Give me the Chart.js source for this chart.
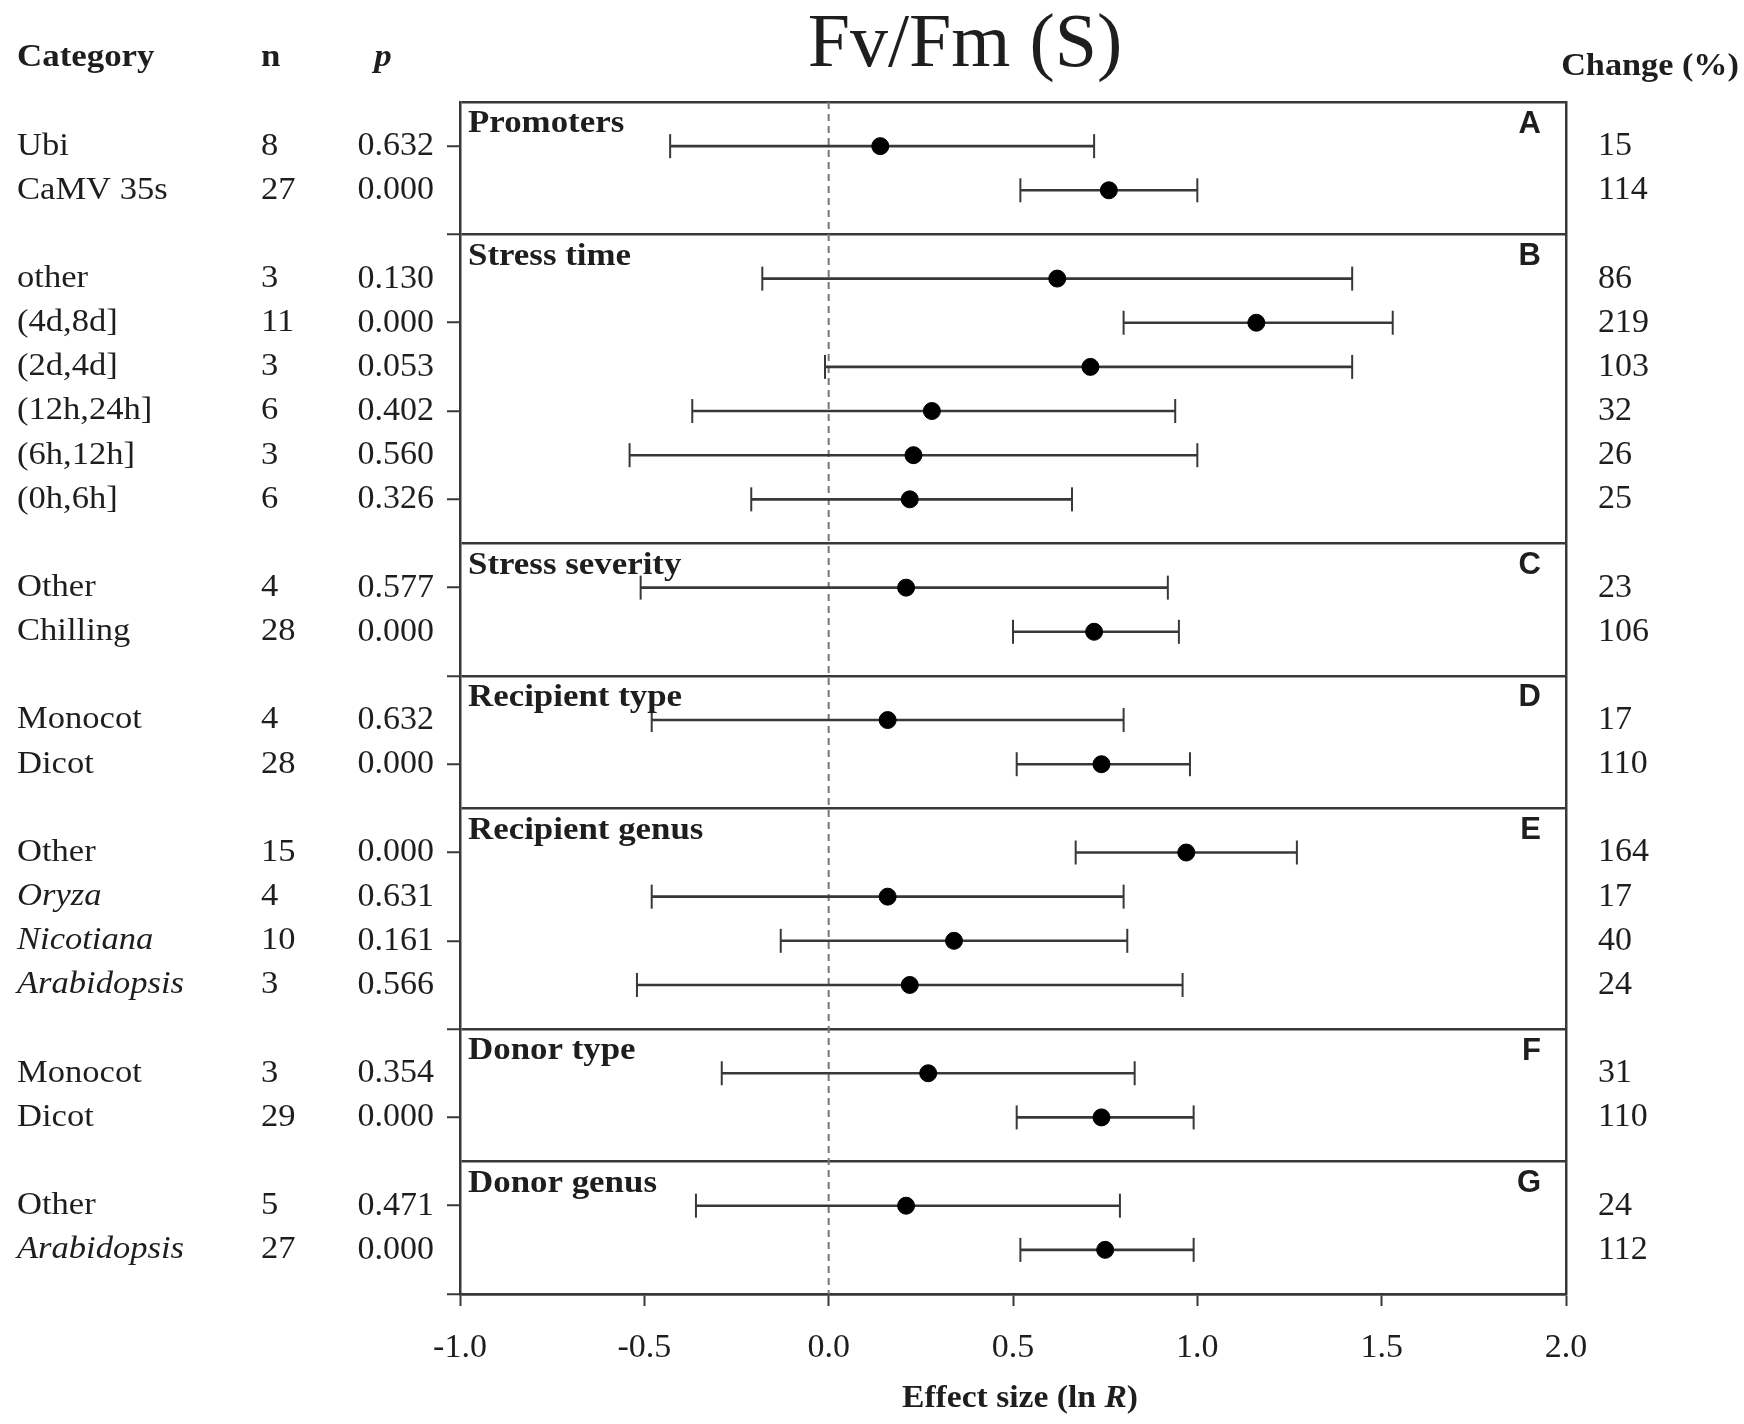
<!DOCTYPE html>
<html>
<head>
<meta charset="utf-8">
<title>Fv/Fm (S)</title>
<script src="https://cdn.jsdelivr.net/npm/chart.js@4.4.1/dist/chart.umd.min.js"></script>
<style>
  html, body { margin: 0; padding: 0; background: #fff; }
  #wrap { width: 1744px; height: 1424px; }
</style>
</head>
<body>
<div id="wrap"><canvas id="forest"></canvas></div>
<script>
// data
const panelTitles  = ['Promoters', 'Stress time', 'Stress severity', 'Recipient type', 'Recipient genus', 'Donor type', 'Donor genus'];
const panelLetters = ['A', 'B', 'C', 'D', 'E', 'F', 'G'];
const panelSizes   = [2, 6, 2, 2, 4, 2, 2];

const categories = ['Ubi', 'CaMV 35s',
  'other', '(4d,8d]', '(2d,4d]', '(12h,24h]', '(6h,12h]', '(0h,6h]',
  'Other', 'Chilling',
  'Monocot', 'Dicot',
  'Other', 'Oryza', 'Nicotiana', 'Arabidopsis',
  'Monocot', 'Dicot',
  'Other', 'Arabidopsis'];
const italicNames = ['Oryza', 'Nicotiana', 'Arabidopsis'];

const nValues   = [8, 27, 3, 11, 3, 6, 3, 6, 4, 28, 4, 28, 15, 4, 10, 3, 3, 29, 5, 27];
const pValues   = ['0.632', '0.000', '0.130', '0.000', '0.053', '0.402', '0.560', '0.326', '0.577', '0.000',
                   '0.632', '0.000', '0.000', '0.631', '0.161', '0.566', '0.354', '0.000', '0.471', '0.000'];
const effect    = [0.14, 0.76, 0.62, 1.16, 0.71, 0.28, 0.23, 0.22, 0.21, 0.72, 0.16, 0.74, 0.97, 0.16, 0.34, 0.22, 0.27, 0.74, 0.21, 0.75];
const ciLow     = [-0.43, 0.52, -0.18, 0.80, -0.01, -0.37, -0.54, -0.21, -0.51, 0.50, -0.48, 0.51, 0.67, -0.48, -0.13, -0.52, -0.29, 0.51, -0.36, 0.52];
const ciHigh    = [0.72, 1.00, 1.42, 1.53, 1.42, 0.94, 1.00, 0.66, 0.92, 0.95, 0.80, 0.98, 1.27, 0.80, 0.81, 0.96, 0.83, 0.99, 0.79, 0.99];
const changePct = [15, 114, 86, 219, 103, 32, 26, 25, 23, 106, 17, 110, 164, 17, 40, 24, 31, 110, 24, 112];

// row slots: one empty slot between panels holds the divider line
const rowPos = [];
const panelTop = [];
let cursor = 0;
panelSizes.forEach(size => {
  panelTop.push(cursor);
  for (let i = 1; i <= size; i++) rowPos.push(cursor + i);
  cursor += size + 1;
});
const yMax = cursor;
const dividers = panelTop.slice(1);

const ink = '#1e1e1e';
const lineColor = '#383838';
const clear = 'rgba(0,0,0,0)';
const serif = '"Liberation Serif", "Times New Roman", serif';
const sans = '"Liberation Sans", Arial, sans-serif';

// error bars: one line piece per row, broken by null points
const errorPoints = [];
rowPos.forEach((r, i) => {
  errorPoints.push({ x: ciLow[i], y: r }, { x: ciHigh[i], y: r }, { x: null, y: null });
});
const meanPoints = rowPos.map((r, i) => ({ x: effect[i], y: r }));

// the source figure's type is a little wider than Times, so stretch it a bit
function wideText(ctx, text, x, y, sx, align) {
  ctx.save();
  ctx.translate(x, y);
  ctx.scale(sx, 1);
  ctx.textAlign = align || 'left';
  ctx.fillText(text, 0, 0);
  ctx.restore();
}

// texts that are not axis ticks
const overlay = {
  id: 'overlay',
  afterDraw(chart) {
    const { ctx, chartArea } = chart;
    const ys = chart.scales.y;
    ctx.save();
    ctx.fillStyle = ink;
    ctx.textBaseline = 'middle';

    // title
    ctx.font = '76px ' + serif;
    wideText(ctx, 'Fv/Fm (S)', 965, 46, 1, 'center');

    // column headers
    ctx.font = 'bold 32px ' + serif;
    wideText(ctx, 'Category', 17, 58, 1.09);
    wideText(ctx, 'n', 261, 58, 1.09);
    ctx.font = 'italic bold 32px ' + serif;
    wideText(ctx, 'p', 383, 58, 1.09, 'center');
    ctx.font = 'bold 32px ' + serif;
    wideText(ctx, 'Change (%)', 1739, 67, 1.07, 'right');

    // category names and n
    rowPos.forEach((r, i) => {
      const py = ys.getPixelForValue(r);
      ctx.font = (italicNames.includes(categories[i]) ? 'italic ' : '') + '32px ' + serif;
      wideText(ctx, categories[i], 17, py, 1.08);
      ctx.font = '32px ' + serif;
      wideText(ctx, String(nValues[i]), 261, py, 1.08);
    });

    // panel titles and letters
    panelTop.forEach((t, i) => {
      const py = ys.getPixelForValue(t) + 22;
      ctx.font = 'bold 32px ' + serif;
      wideText(ctx, panelTitles[i], chartArea.left + 8, py, 1.09);
      ctx.font = 'bold 31px ' + sans;
      wideText(ctx, panelLetters[i], chartArea.right - 25, py, 1, 'right');
    });

    // x axis title with italic R
    const sx = 1.05;
    ctx.font = 'bold 32px ' + serif;
    const partA = 'Effect size (ln ';
    const wA = ctx.measureText(partA).width * sx;
    ctx.font = 'italic bold 32px ' + serif;
    const wR = ctx.measureText('R').width * sx;
    ctx.font = 'bold 32px ' + serif;
    const wC = ctx.measureText(')').width * sx;
    const x0 = (chartArea.left + chartArea.right) / 2 + 7 - (wA + wR + wC) / 2;
    const ty = 1399;
    wideText(ctx, partA, x0, ty, sx);
    ctx.font = 'italic bold 32px ' + serif;
    wideText(ctx, 'R', x0 + wA, ty, sx);
    ctx.font = 'bold 32px ' + serif;
    wideText(ctx, ')', x0 + wA + wR, ty, sx);
    ctx.restore();
  }
};

document.addEventListener('DOMContentLoaded', () => {
  const ctx = document.getElementById('forest').getContext('2d');

  new Chart(ctx, {
    type: 'scatter',
    data: {
      datasets: [
        {
          type: 'line',
          label: 'zero',
          data: [{ x: 0, y: 0 }, { x: 0, y: yMax }],
          borderColor: '#777',
          borderWidth: 2,
          borderDash: [7, 5],
          pointRadius: 0,
          order: 3
        },
        {
          type: 'line',
          label: 'CI',
          data: errorPoints,
          borderColor: lineColor,
          borderWidth: 2.6,
          pointStyle: 'line',
          pointRotation: 90,
          pointRadius: 12,
          pointBorderWidth: 2,
          pointBorderColor: lineColor,
          spanGaps: false,
          order: 2
        },
        {
          label: 'ln R',
          data: meanPoints,
          backgroundColor: '#000',
          borderColor: '#000',
          pointRadius: 8.5,
          order: 1
        }
      ]
    },
    options: {
      responsive: true,
      maintainAspectRatio: false,
      animation: false,
      layout: { padding: { top: 102, left: 0, right: 0, bottom: 0 } },
      plugins: {
        legend: { display: false },
        tooltip: { enabled: false }
      },
      scales: {
        x: {
          type: 'linear',
          min: -1,
          max: 2,
          ticks: {
            stepSize: 0.5,
            callback: v => v.toFixed(1),
            color: ink,
            font: { family: serif, size: 34 },
            padding: 22
          },
          grid: { drawOnChartArea: false, tickLength: 12, tickColor: lineColor, tickWidth: 2 },
          border: { color: lineColor, width: 2.5 },
          afterFit: s => { s.height = 130; }
        },
        y: {
          type: 'linear',
          position: 'left',
          min: 0,
          max: yMax,
          reverse: true,
          ticks: {
            stepSize: 1,
            autoSkip: false,
            color: ink,
            font: { family: serif, size: 34 },
            padding: 13,
            callback: v => {
              const i = rowPos.indexOf(v);
              return i >= 0 ? pValues[i] : '';
            }
          },
          grid: {
            drawOnChartArea: true,
            lineWidth: 2.5,
            color: c => (c.tick && (c.tick.value === 0 || c.tick.value === yMax || dividers.includes(c.tick.value))) ? lineColor : clear,
            tickColor: c => (c.tick && c.tick.value % 2 === 1) ? lineColor : clear,
            tickLength: 13,
            tickWidth: 2
          },
          border: { color: lineColor, width: 2.5 },
          afterFit: s => { s.width = 460; }
        },
        yR: {
          type: 'linear',
          position: 'right',
          min: 0,
          max: yMax,
          reverse: true,
          ticks: {
            stepSize: 1,
            autoSkip: false,
            color: ink,
            font: { family: serif, size: 34 },
            padding: 32,
            callback: v => {
              const i = rowPos.indexOf(v);
              return i >= 0 ? String(changePct[i]) : '';
            }
          },
          grid: { drawOnChartArea: false, drawTicks: false },
          border: { color: lineColor, width: 2.5 },
          afterFit: s => { s.width = 178; }
        }
      }
    },
    plugins: [overlay]
  });
});
</script>
</body>
</html>
